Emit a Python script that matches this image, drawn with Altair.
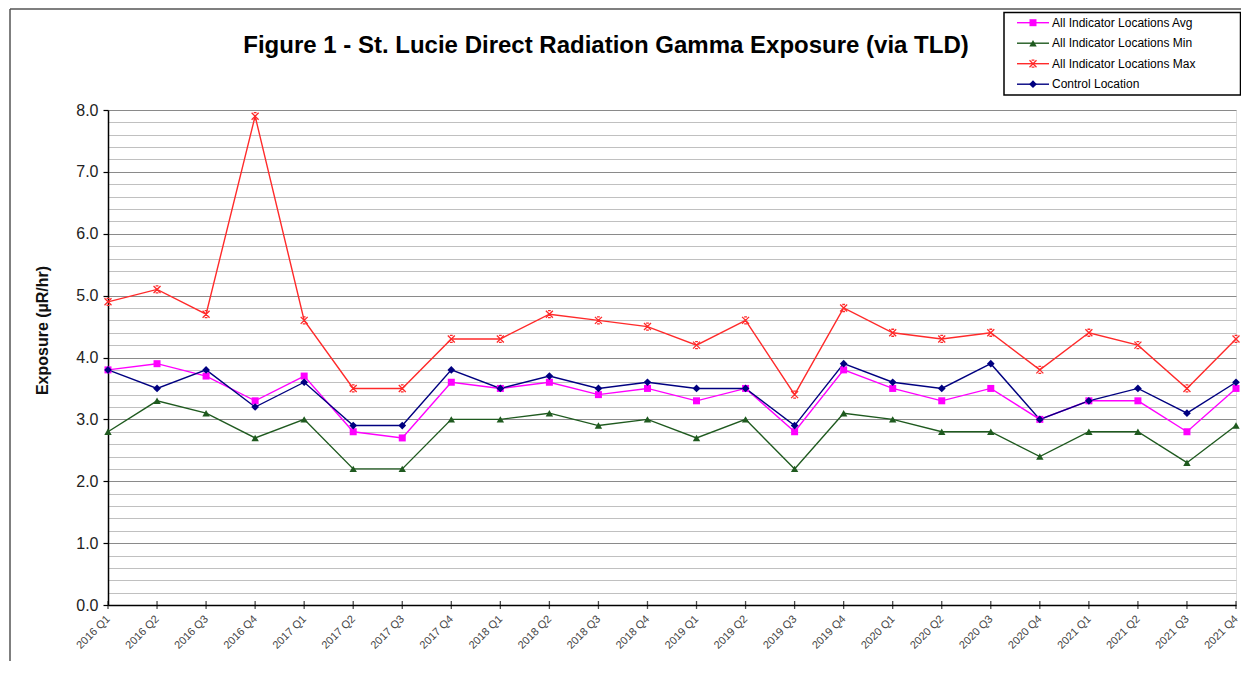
import altair as alt
import pandas as pd

quarters = ["2016 Q1", "2016 Q2", "2016 Q3", "2016 Q4",
            "2017 Q1", "2017 Q2", "2017 Q3", "2017 Q4",
            "2018 Q1", "2018 Q2", "2018 Q3", "2018 Q4",
            "2019 Q1", "2019 Q2", "2019 Q3", "2019 Q4",
            "2020 Q1", "2020 Q2", "2020 Q3", "2020 Q4",
            "2021 Q1", "2021 Q2", "2021 Q3", "2021 Q4"]

series_names = ["All Indicator Locations Avg", "All Indicator Locations Min",
                "All Indicator Locations Max", "Control Location"]

avg_vals = [3.8, 3.9, 3.7, 3.3, 3.7, 2.8, 2.7, 3.6, 3.5, 3.6, 3.4, 3.5,
            3.3, 3.5, 2.8, 3.8, 3.5, 3.3, 3.5, 3.0, 3.3, 3.3, 2.8, 3.5]
min_vals = [2.8, 3.3, 3.1, 2.7, 3.0, 2.2, 2.2, 3.0, 3.0, 3.1, 2.9, 3.0,
            2.7, 3.0, 2.2, 3.1, 3.0, 2.8, 2.8, 2.4, 2.8, 2.8, 2.3, 2.9]
max_vals = [4.9, 5.1, 4.7, 7.9, 4.6, 3.5, 3.5, 4.3, 4.3, 4.7, 4.6, 4.5,
            4.2, 4.6, 3.4, 4.8, 4.4, 4.3, 4.4, 3.8, 4.4, 4.2, 3.5, 4.3]
ctrl_vals = [3.8, 3.5, 3.8, 3.2, 3.6, 2.9, 2.9, 3.8, 3.5, 3.7, 3.5, 3.6,
             3.5, 3.5, 2.9, 3.9, 3.6, 3.5, 3.9, 3.0, 3.3, 3.5, 3.1, 3.6]

colors = ["#ff00ff", "#1f5a1f", "#ff2a2a", "#000080"]

title_text = "Figure 1 - St. Lucie Direct Radiation Gamma Exposure (via TLD)"
y_title = "Exposure (µR/hr)"

rows = []
for name, vals in zip(series_names, [avg_vals, min_vals, max_vals, ctrl_vals]):
    for q, v in zip(quarters, vals):
        rows.append({"quarter": q, "series": name, "value": v})
df = pd.DataFrame(rows)
qdf = pd.DataFrame({"quarter": quarters})
ldf = pd.DataFrame({"series": series_names})

FONT = "Liberation Sans"
W, H = 1128, 495
PAD_B = 56

y_ticks = [round(i * 0.2, 1) for i in range(41)]
is_major = "abs(datum.value - round(datum.value)) < 0.001"

X = alt.X("quarter:N", sort=quarters,
          scale=alt.Scale(type="point", padding=0),
          axis=alt.Axis(title=None, labelAngle=315, labelAlign="right",
                        labelBaseline="middle", labelFont=FONT, labelFontSize=11,
                        labelColor="#444", labelPadding=12, labelOffset=0,
                        ticks=False, domainColor="black", domainWidth=1.5,
                        grid=False, labelOverlap=False))

y_scale = alt.Scale(domain=[0, 8], nice=False)

Y = alt.Y("value:Q", scale=y_scale,
          axis=alt.Axis(values=y_ticks, tickCount=100, format=".1f",
                        labelExpr=f"{is_major} ? datum.label : ''",
                        labelOverlap=False,
                        grid=True,
                        gridColor={"condition": {"test": is_major, "value": "#8a8a8a"},
                                   "value": "#c0c0c0"},
                        gridWidth=1.2,
                        tickOpacity={"condition": {"test": is_major, "value": 1},
                                     "value": 0},
                        tickSize=5, tickColor="black", tickWidth=1.2,
                        domainColor="black", domainWidth=1.5,
                        labelFont=FONT, labelFontSize=16, labelColor="#222",
                        labelPadding=5,
                        title=y_title, titleFont=FONT, titleFontSize=16,
                        titleFontWeight="bold", titleColor="#111",
                        titleAngle=270, titleAlign="center", titleBaseline="middle",
                        titleX=-66, titleY=220))
Y_plain = alt.Y("value:Q", scale=y_scale, axis=None)

color_scale = alt.Scale(domain=series_names, range=colors)

# markers
marker_x = "M-1,-1L1,1M-1,1L1,-1M-0.4,-1L0.4,-1M-0.4,1L0.4,1"
marker_shapes = ["square", "triangle-up", marker_x, "diamond"]
marker_filled = [True, True, False, True]
marker_sizes = [49, 55, 49, 60]

lines = alt.Chart(df).mark_line(strokeWidth=1.4).encode(
    x=X, y=Y,
    color=alt.Color("series:N", scale=color_scale, legend=None),
    detail="series:N",
)

point_layers = []
for name, shp, fld, col, sz in zip(series_names, marker_shapes, marker_filled,
                                    colors, marker_sizes):
    point_layers.append(
        alt.Chart(df).transform_filter(alt.datum.series == name)
        .mark_point(shape=shp, filled=fld, color=col, size=sz,
                    strokeWidth=1.3, opacity=1)
        .encode(x=X, y=Y_plain)
    )

xticks = alt.Chart(qdf).mark_tick(orient="vertical", size=8, thickness=1.3,
                                  color="black").encode(
    x=X, y=alt.YDatum(0, scale=y_scale, axis=None))

# ---- legend (box, line samples, markers, labels) ----
LEG_Y = alt.Y("series:N", scale=alt.Scale(domain=series_names, type="point",
                                         range=[-87.3, -25.8], padding=0),
              axis=None)
frame_df = pd.DataFrame({"a": [0]})
legend_box = alt.Chart(frame_df).mark_rect(fill="white", stroke="black",
                                           strokeWidth=1.5).encode(
    x=alt.value(896), x2=alt.value(1132.5), y=alt.value(-97.5), y2=alt.value(-15))
legend_lines = alt.Chart(ldf).mark_rule(strokeWidth=1.4).encode(
    x=alt.value(909), x2=alt.value(941), y=LEG_Y,
    color=alt.Color("series:N", scale=color_scale, legend=None))
legend_marks = []
for name, shp, fld, col, sz in zip(series_names, marker_shapes, marker_filled,
                                    colors, marker_sizes):
    legend_marks.append(
        alt.Chart(ldf).transform_filter(alt.datum.series == name)
        .mark_point(shape=shp, filled=fld, color=col, size=sz,
                    strokeWidth=1.3, opacity=1)
        .encode(x=alt.value(925), y=LEG_Y)
    )
legend_text = alt.Chart(ldf).mark_text(align="left", baseline="middle", font=FONT,
                                       fontSize=12, color="black").encode(
    x=alt.value(944), y=LEG_Y, text="series:N")

left_border = alt.Chart(frame_df).mark_rule(color="#555", strokeWidth=1.5).encode(
    x=alt.value(-98), y=alt.value(-101), y2=alt.value(H + PAD_B))
top_border = alt.Chart(frame_df).mark_rule(color="#555", strokeWidth=1.5).encode(
    x=alt.value(-98), x2=alt.value(W + 5), y=alt.value(-101))
title_mark = alt.Chart(frame_df).mark_text(
    text=title_text, font=FONT, fontSize=24, fontWeight="bold", color="black",
    align="center", baseline="middle"
).encode(x=alt.value(498), y=alt.value(-64))

chart = alt.layer(lines, *point_layers, xticks, left_border, top_border,
                  title_mark, legend_box, legend_lines, *legend_marks,
                  legend_text).resolve_scale(y="independent").properties(
    width=W, height=H,
    autosize=alt.AutoSizeParams(type="none"),
    padding={"left": 100, "top": 102, "right": 5, "bottom": PAD_B},
).configure_view(stroke="#8a8a8a", strokeWidth=1).configure(background="white")

chart.save("out.html", embed_options={"renderer": "svg", "actions": False})
